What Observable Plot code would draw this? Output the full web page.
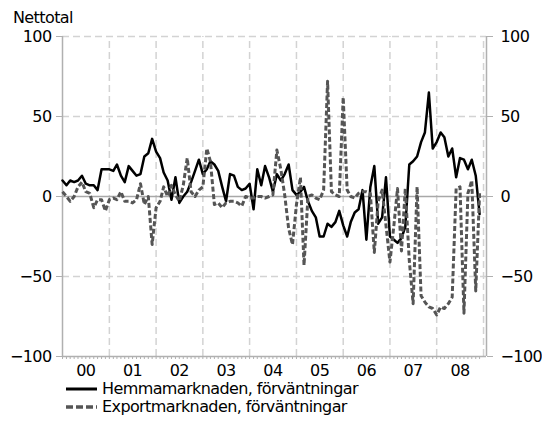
<!DOCTYPE html>
<html>
<head>
<meta charset="utf-8">
<script src="https://cdn.jsdelivr.net/npm/d3@7"></script>
<script src="https://cdn.jsdelivr.net/npm/@observablehq/plot@0.6"></script>
<style>
  html, body { margin: 0; padding: 0; background: #fff; }
  #wrap { position: relative; width: 542px; height: 421px; font-family: "DejaVu Sans", sans-serif; font-size: 16px; letter-spacing: -0.6px; color: #000; }
  #title { position: absolute; left: 13px; top: 10px; line-height: 16px; }
  .leg { position: absolute; left: 66px; height: 18px; display: flex; align-items: center; line-height: 18px; }
  .leg svg { margin-right: 5px; }
</style>
</head>
<body>
<div id="wrap">
  <div id="chart"></div>
  <div id="title">Nettotal</div>
  <div class="leg" style="top:380px">
    <svg width="31" height="6"><line x1="0" y1="3" x2="31" y2="3" stroke="#000" stroke-width="3"/></svg>
    <span id="l1"></span>
  </div>
  <div class="leg" style="top:398px">
    <svg width="31" height="6"><line x1="0" y1="3" x2="31" y2="3" stroke="#555" stroke-width="3.5" stroke-dasharray="7,3"/></svg>
    <span id="l2"></span>
  </div>
</div>
<script>
const years = ["2000","2001","2002","2003","2004","2005","2006","2007","2008"];
const yearLabels = ["00","01","02","03","04","05","06","07","08"];
const seriesNames = ["Hemmamarknaden, förväntningar", "Exportmarknaden, förväntningar"];
const yTicks = [-100, -50, 0, 50, 100];

// Hemmamarknaden, förväntningar (monthly, Jan 2000 - Dec 2008)
const hemma = [
  10, 7, 10, 9, 10, 13, 8, 7, 7, 4, 17, 17,
  17, 16, 20, 13, 9, 19, 16, 13, 14, 25, 27, 36,
  28, 24, 15, 10, -2, 12, -4, 0, 3, 9, 16, 23,
  14, 17, 22, 20, 16, 6, -3, 14, 13, 6, 4, 5,
  8, -8, 17, 7, 19, 12, 3, 14, 10, 14, 20, 4,
  1, 3, 6, -3, -9, -13, -25, -25, -17, -19, -16, -9,
  -18, -25, -16, -10, -8, 4, -27, 6, 19, -17, -13, 12,
  -25, -27, -29, -26, -19, 20, 22, 25, 34, 40, 65, 30,
  34, 40, 37, 25, 30, 12, 24, 23, 17, 23, 13, -11
];

// Exportmarknaden, förväntningar
const exportm = [
  3, 0, -3, 0, 6, 9, 3, 2, -7, -2, -2, -9,
  -2, -1, -2, 3, -3, -3, -4, -2, 8, -5, 0, -30,
  -7, -3, 6, 0, 7, 1, -3, 7, 24, 3, 0, 4,
  6, 30, 22, -5, -4, -7, -4, -3, -3, -4, -6, 0,
  -1, -1, 0, 0, -1, 0, 1, 29, 17, 1, -20, -30,
  -5, 12, -43, 0, 1, -1, -2, 4, 72, 3, 1, 0,
  62, 4, 0, -1, 2, 3, 3, 2, -35, -3, 4, -18,
  -41, -18, 5, -34, 5, -40, -67, 6, -62, -66, -69, -70,
  -74, -69, -70, -67, -63, 5, 6, -73, 2, 10, -59, 2
];

const monthIdx = d3.range(12);
const months = years.flatMap(y => monthIdx.map(m => new Date(Date.UTC(+y, m, 1))));
const data = months.map((date, i) => ({date, hemma: hemma[i], exp: exportm[i]}));
const yearEnds = years.map(y => new Date(Date.UTC(+y + 1, 0, 1)));
const midYears = years.map(y => new Date(Date.UTC(+y, 6, 1)));
const xDomain = [new Date(Date.UTC(+years[0], 0, 1)), new Date(Date.UTC(+years[years.length - 1] + 1, 0, 24))];

document.getElementById("l1").textContent = seriesNames[0];
document.getElementById("l2").textContent = seriesNames[1];

const grid = {stroke: "#d3d3d3", strokeWidth: 1.5, strokeDasharray: "7,4"};
const axisGray = "#b0b0b0";

const chart = Plot.plot({
  width: 542,
  height: 421,
  marginLeft: 62,
  marginRight: 56,
  marginTop: 36,
  marginBottom: 65,
  x: {type: "utc", domain: xDomain, label: null},
  y: {domain: [-100, 100], label: null},
  style: {fontFamily: "DejaVu Sans", fontSize: "16px", color: "#000", background: "transparent", letterSpacing: "-0.6px"},
  marks: [
    Plot.ruleY([100, 50, -50], grid),
    Plot.ruleX(yearEnds, {...grid, y1: -100, y2: 100}),
    Plot.ruleY([0], {stroke: "#a8a8a8", strokeWidth: 1.5}),
    Plot.ruleY([-100], {stroke: axisGray, strokeWidth: 1.5}),
    Plot.ruleX(xDomain, {y1: -100, y2: 100, stroke: axisGray, strokeWidth: 1.5}),
    Plot.axisY({anchor: "left", ticks: yTicks, tickSize: 6, tickPadding: 5, stroke: axisGray, fill: "#000", label: null}),
    Plot.axisY({anchor: "right", ticks: yTicks, tickSize: 6, tickPadding: 8, stroke: axisGray, fill: "#000", label: null}),
    Plot.axisX({ticks: months, tickSize: 3, tickFormat: () => "", stroke: axisGray, label: null}),
    Plot.axisX({ticks: midYears, tickSize: 0, tickPadding: 8, fill: "#000",
      tickFormat: d => yearLabels[years.indexOf(String(d.getUTCFullYear()))], label: null}),
    Plot.line(data, {x: "date", y: "hemma", stroke: "#000", strokeWidth: 2.5}),
    Plot.line(data, {x: "date", y: "exp", stroke: "#555", strokeWidth: 3, strokeDasharray: "5,2.5", strokeLinecap: "butt"})
  ]
});
document.getElementById("chart").appendChild(chart);
</script>
</body>
</html>
